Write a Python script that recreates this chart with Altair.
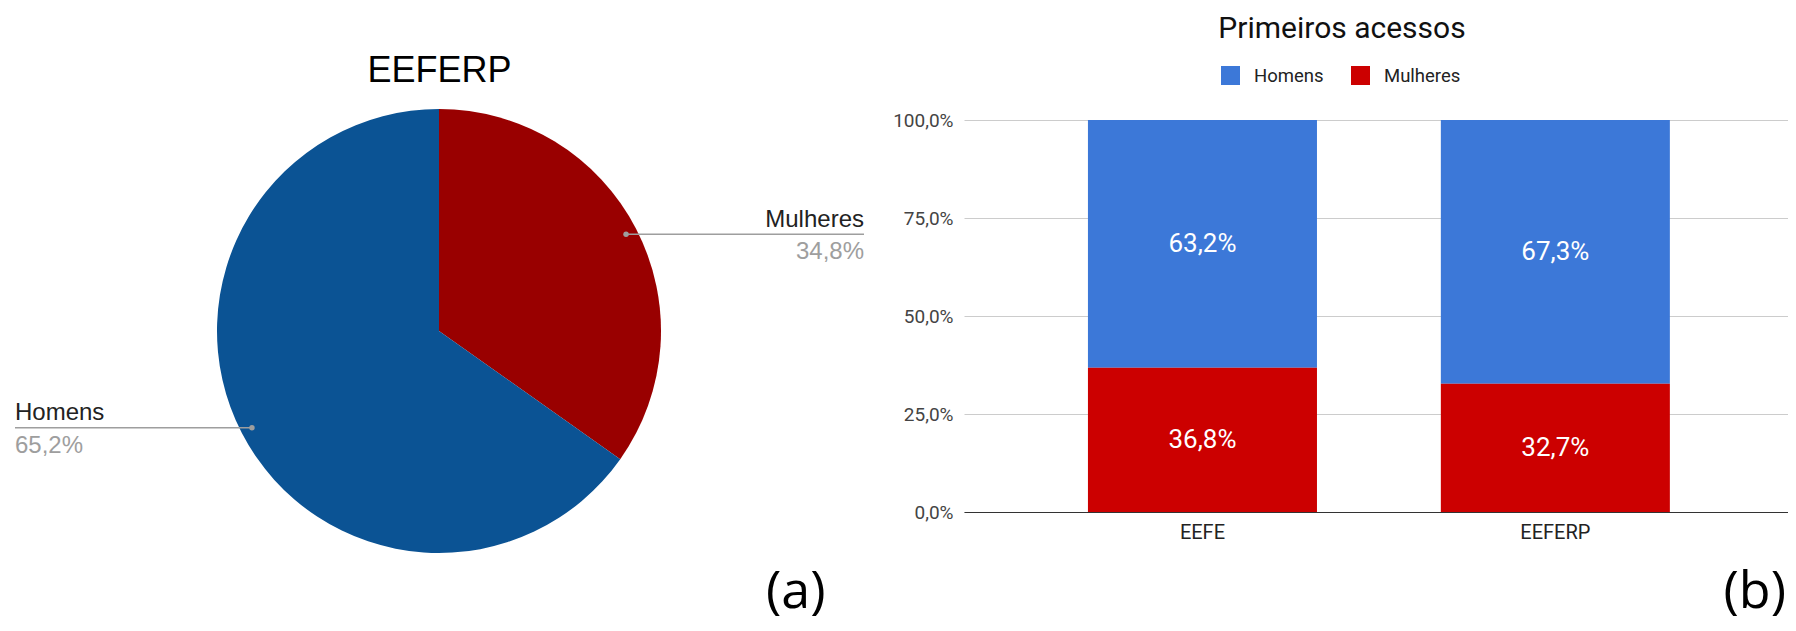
import math
import altair as alt
import pandas as pd

# ---------------- data ----------------
pie_title = "EEFERP"
pie_labels = ["Mulheres", "Homens"]
pie_values = [34.8, 65.2]
pie_colors = ["#990000", "#0b5394"]

bar_title = "Primeiros acessos"
schools = ["EEFE", "EEFERP"]
series = ["Homens", "Mulheres"]
homens = [63.2, 67.3]
mulheres = [36.8, 32.7]
bar_colors = ["#3c78d8", "#cc0000"]
y_ticks = [0, 25, 50, 75, 100]

panel_a = "(a)"
panel_b = "(b)"

# ---------------- layout (pixels) ----------------
H = 614          # view heights
LW = 880         # left view width
RW = 824         # right view width
SP = 76          # spacing
CX, CY, R = 431, 323, 222   # pie centre / radius
Y100, Y0 = 112, 504         # pixel rows of 100% and 0% in right view

pct_expr = "replace(format(datum.value, '.1f'), '.', ',') + '%'"

# ---------------- left: pie ----------------
pie_df = pd.DataFrame({"label": pie_labels, "value": pie_values, "ord": list(range(len(pie_labels)))})

arc = alt.Chart(pie_df).mark_arc(radius=R, x=CX, y=CY, strokeWidth=0).encode(
    theta=alt.Theta("value:Q", stack=True),
    color=alt.Color("label:N", scale=alt.Scale(domain=pie_labels, range=pie_colors), legend=None),
    order=alt.Order("ord:Q"),
)

total = sum(pie_values)
anchors = {}
cum = 0.0
for lab, v in zip(pie_labels, pie_values):
    mid = (cum + v / 2) / total * 2 * math.pi
    cum += v
    anchors[lab] = (CX + 210.6 * math.sin(mid), CY - 210.6 * math.cos(mid))

layers = [arc]
LINE_COL = "#9e9e9e"
for lab in pie_labels:
    ax, ay = anchors[lab]
    right_side = ax > CX
    if right_side:
        x_start, x_end, tx, align = ax, 856, 856, "right"
    else:
        x_start, x_end, tx, align = 7, ax, 7, "left"
    base = alt.Chart(pie_df).transform_filter(alt.datum.label == lab)
    layers.append(base.mark_rule(color=LINE_COL, strokeWidth=1.6).encode(
        x=alt.value(x_start), x2=alt.value(x_end), y=alt.value(ay)))
    layers.append(base.mark_circle(color=LINE_COL, size=30, opacity=1).encode(
        x=alt.value(ax), y=alt.value(ay)))
    layers.append(base.mark_text(align=align, baseline="alphabetic", font="Liberation Sans",
                                 fontSize=24, color="#222222").encode(
        x=alt.value(tx), y=alt.value(ay - 7.5), text="label:N"))
    layers.append(base.transform_calculate(pct=pct_expr).mark_text(
        align=align, baseline="alphabetic", font="Liberation Sans", fontSize=24, color="#9e9e9e").encode(
        x=alt.value(tx), y=alt.value(ay + 25), text="pct:N"))

one_a = pd.DataFrame({"t": [pie_title]})
layers.append(alt.Chart(one_a).mark_text(align="center", baseline="alphabetic", font="Liberation Sans",
                                         fontSize=36, color="#000000").encode(
    x=alt.value(431.5), y=alt.value(74), text="t:N"))
one_pa = pd.DataFrame({"t": [panel_a]})
layers.append(alt.Chart(one_pa).mark_text(align="left", baseline="alphabetic", font="Open Sans",
                                          fontSize=52, color="#000000").encode(
    x=alt.value(758), y=alt.value(600), text="t:N"))

left = alt.layer(*layers).properties(width=LW, height=H)

# ---------------- right: stacked bars ----------------
bar_df = pd.DataFrame({
    "school": schools * 2,
    "series": [series[0]] * len(schools) + [series[1]] * len(schools),
    "value": homens + mulheres,
})

span = 100.0 * H / (Y0 - Y100)
hi = Y0 * span / H
lo = hi - span

yscale = alt.Scale(domain=[lo, hi], nice=False, zero=False)
xscale = alt.Scale(domain=schools, paddingInner=0.351, paddingOuter=0.343, align=0.512)

yaxis = alt.Axis(values=y_ticks, labelExpr=pct_expr, grid=True, gridColor="#cccccc", gridWidth=1,
                 domain=False, ticks=False, labelFontSize=19, labelFont="Roboto", labelColor="#444444",
                 labelPadding=11, title=None)
xaxis = alt.Axis(orient="bottom", offset=-(H - Y0), labelAngle=0, domainColor="#333333", domainWidth=1.2,
                 ticks=False, labelFontSize=20, labelFont="Roboto", labelColor="#222222",
                 labelPadding=10, title=None, zindex=1, grid=False)

stacked = alt.Chart(bar_df).transform_calculate(
    ord="datum.series == 'Mulheres' ? 0 : 1"
).transform_stack(
    stack="value", groupby=["school"], as_=["y0", "y1"], sort=[alt.SortField("ord", order="ascending")]
).transform_calculate(
    mid="(datum.y0 + datum.y1) / 2",
    lab=pct_expr,
)

bars = stacked.mark_bar().encode(
    x=alt.X("school:N", scale=xscale, axis=xaxis, sort=schools),
    y=alt.Y("y0:Q", scale=yscale, axis=yaxis),
    y2="y1:Q",
    color=alt.Color("series:N", scale=alt.Scale(domain=series, range=bar_colors),
                    legend=alt.Legend(orient="none", legendX=257, legendY=58, direction="horizontal",
                                      title=None, symbolType="square", symbolSize=361,
                                      symbolStrokeWidth=0, labelFontSize=18.5, labelFont="Roboto",
                                      labelColor="#222222", labelOffset=14, columnPadding=27,
                                      padding=0)),
)

bar_text = stacked.mark_text(color="white", fontSize=26, font="Roboto", baseline="middle",
                             align="center").encode(
    x=alt.X("school:N", scale=xscale, axis=xaxis, sort=schools),
    y=alt.Y("mid:Q", scale=yscale, axis=yaxis),
    text="lab:N",
)

one_t = pd.DataFrame({"t": [bar_title]})
title_b = alt.Chart(one_t).mark_text(align="center", baseline="alphabetic", font="Roboto",
                                     fontSize=30, color="#111111").encode(
    x=alt.value(378), y=alt.value(30), text="t:N")
one_pb = pd.DataFrame({"t": [panel_b]})
pb = alt.Chart(one_pb).mark_text(align="right", baseline="alphabetic", font="Open Sans",
                                 fontSize=52, color="#000000").encode(
    x=alt.value(822), y=alt.value(600), text="t:N")

right = alt.layer(bars, bar_text, title_b, pb).properties(width=RW, height=H)

chart = alt.hconcat(left, right, spacing=SP, bounds="flush").resolve_scale(
    color="independent"
).properties(padding=0, background="white").configure_view(stroke=None)

chart.save("out.html", embed_options={"renderer": "svg", "actions": False})
